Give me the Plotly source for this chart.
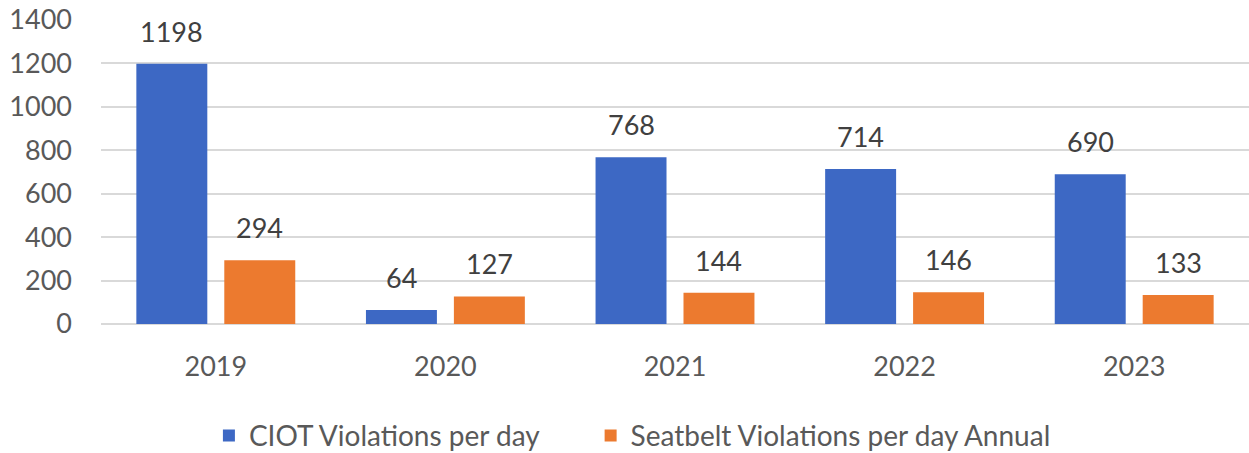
import plotly.graph_objects as go

years = ['2019', '2020', '2021', '2022', '2023']
ciot = [1198, 64, 768, 714, 690]
seatbelt = [294, 127, 144, 146, 133]

blue = '#3D68C4'
orange = '#EC7A2F'
grey_text = '#595959'
FONT = 'Lato, Liberation Sans, Arial, sans-serif'

BARGAP = 0.234
GROUPGAP = 0.193
offset = (1 - BARGAP) / 4  # centre of each bar inside its category

fig = go.Figure()
fig.add_trace(go.Bar(x=years, y=ciot, name='CIOT Violations per day',
                     marker=dict(color=blue, line=dict(width=0)), legend='legend'))
fig.add_trace(go.Bar(x=years, y=seatbelt, name='Seatbelt Violations per day Annual',
                     marker=dict(color=orange, line=dict(width=0)), legend='legend2'))

# value labels, floated a bit above each bar like the original
annotations = []
for i, yr in enumerate(years):
    for val, shift in ((ciot[i], -offset), (seatbelt[i], offset)):
        annotations.append(dict(
            x=i + shift, y=val, xref='x', yref='y', text=str(val),
            showarrow=False, yanchor='bottom', yshift=14,
            font=dict(family=FONT, size=27, color='#404040'),
        ))

legend_style = dict(orientation='h', xanchor='left', y=-0.368, yanchor='middle',
                    font=dict(family=FONT, size=28, color=grey_text), itemwidth=30)

fig.update_layout(
    width=1249, height=453,
    paper_bgcolor='white', plot_bgcolor='white',
    font=dict(family=FONT, size=27, color=grey_text),
    margin=dict(l=101, r=0, t=20, b=129, autoexpand=False),
    barmode='group', bargap=BARGAP, bargroupgap=GROUPGAP,
    showlegend=True,
    legend=dict(x=0.094, **legend_style),
    legend2=dict(x=0.4265, **legend_style),
    annotations=annotations,
)
fig.update_xaxes(type='category', showline=False, ticks='', automargin=False,
                 tickfont=dict(size=27), ticklabelstandoff=24)
fig.update_yaxes(range=[0, 1400], dtick=200, showgrid=True, gridcolor='#D9D9D9',
                 gridwidth=1.5, zeroline=True, zerolinecolor='#D9D9D9', zerolinewidth=1.5,
                 automargin=False, tickfont=dict(size=27), ticklabelstandoff=28,
                 ticklabeloverflow='allow')

# drop the default 8px body margin so the figure fills the window exactly
fig.write_html("out.html", config={'displayModeBar': False},
               post_script="document.body.style.margin='0';")
